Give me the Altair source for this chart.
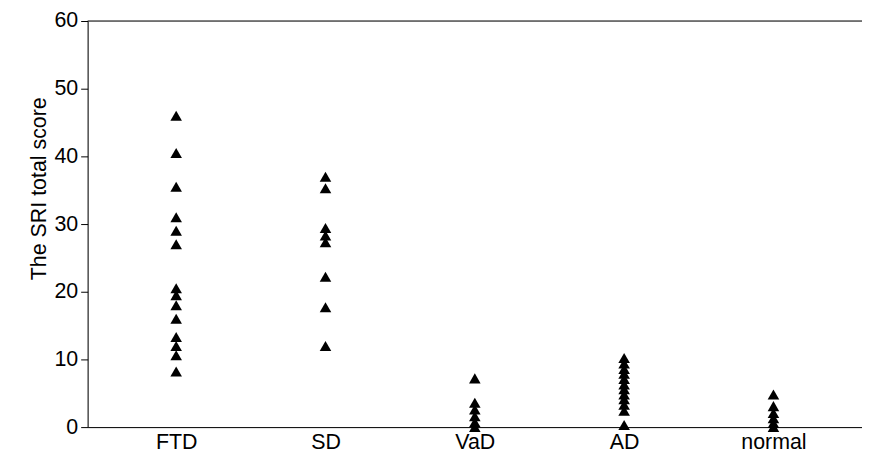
import altair as alt
import pandas as pd

categories = ["FTD", "SD", "VaD", "AD", "normal"]
ftd = [46, 40.5, 35.5, 31, 29, 27, 20.5, 19.5, 18, 16, 13.3, 12, 10.6, 8.2]
sd = [37, 35.3, 29.4, 28.3, 27.3, 22.2, 17.7, 12]
vad = [7.2, 3.6, 2.6, 1.6, 0.7, 0]
ad = [10.2, 9.4, 8.6, 7.9, 7.1, 6.3, 5.6, 4.8, 4.1, 3.3, 2.4, 0.3]
normal = [4.8, 3.1, 2.1, 1.3, 0.6, 0]

rows = []
for cat, vals in zip(categories, [ftd, sd, vad, ad, normal]):
    for v in vals:
        rows.append({"group": cat, "score": v})
df = pd.DataFrame(rows)

FONT = "Liberation Sans"
FS = 21.5

points = alt.Chart(df).mark_point(
    shape="triangle-up", filled=True, color="black", size=135, opacity=1
).encode(
    x=alt.X("group:N", sort=categories,
            scale=alt.Scale(type="point", padding=0.593),
            axis=alt.Axis(title=None, labelAngle=0, ticks=False, domainColor="black",
                          labelFontSize=FS, labelColor="black", labelFont=FONT,
                          labelPadding=4, grid=False)),
    y=alt.Y("score:Q", scale=alt.Scale(domain=[0, 60], nice=False, zero=True),
            axis=alt.Axis(title="The SRI total score", values=[0, 10, 20, 30, 40, 50, 60],
                          tickSize=7, tickColor="black", domainColor="black",
                          labelFontSize=FS, labelColor="black", labelFont=FONT,
                          labelPadding=3, grid=False,
                          titleFontSize=FS, titleFont=FONT, titleFontWeight="normal",
                          titleColor="black", titleAngle=-90, titleX=-48, titleY=188 - 20,
                          titleAlign="center", titleBaseline="middle")),
)

top = alt.Chart(pd.DataFrame({"y": [60]})).mark_rule(color="black", strokeWidth=1).encode(
    y=alt.Y("y:Q")
)

chart = alt.layer(points, top).properties(
    width=778, height=408,
    autosize=alt.AutoSizeParams(type="none"),
    padding={"left": 80, "top": 12, "right": 0, "bottom": 36},
).configure_view(stroke=None).configure(background="white")

chart.save("out.html", embed_options={"renderer": "svg", "actions": False})
